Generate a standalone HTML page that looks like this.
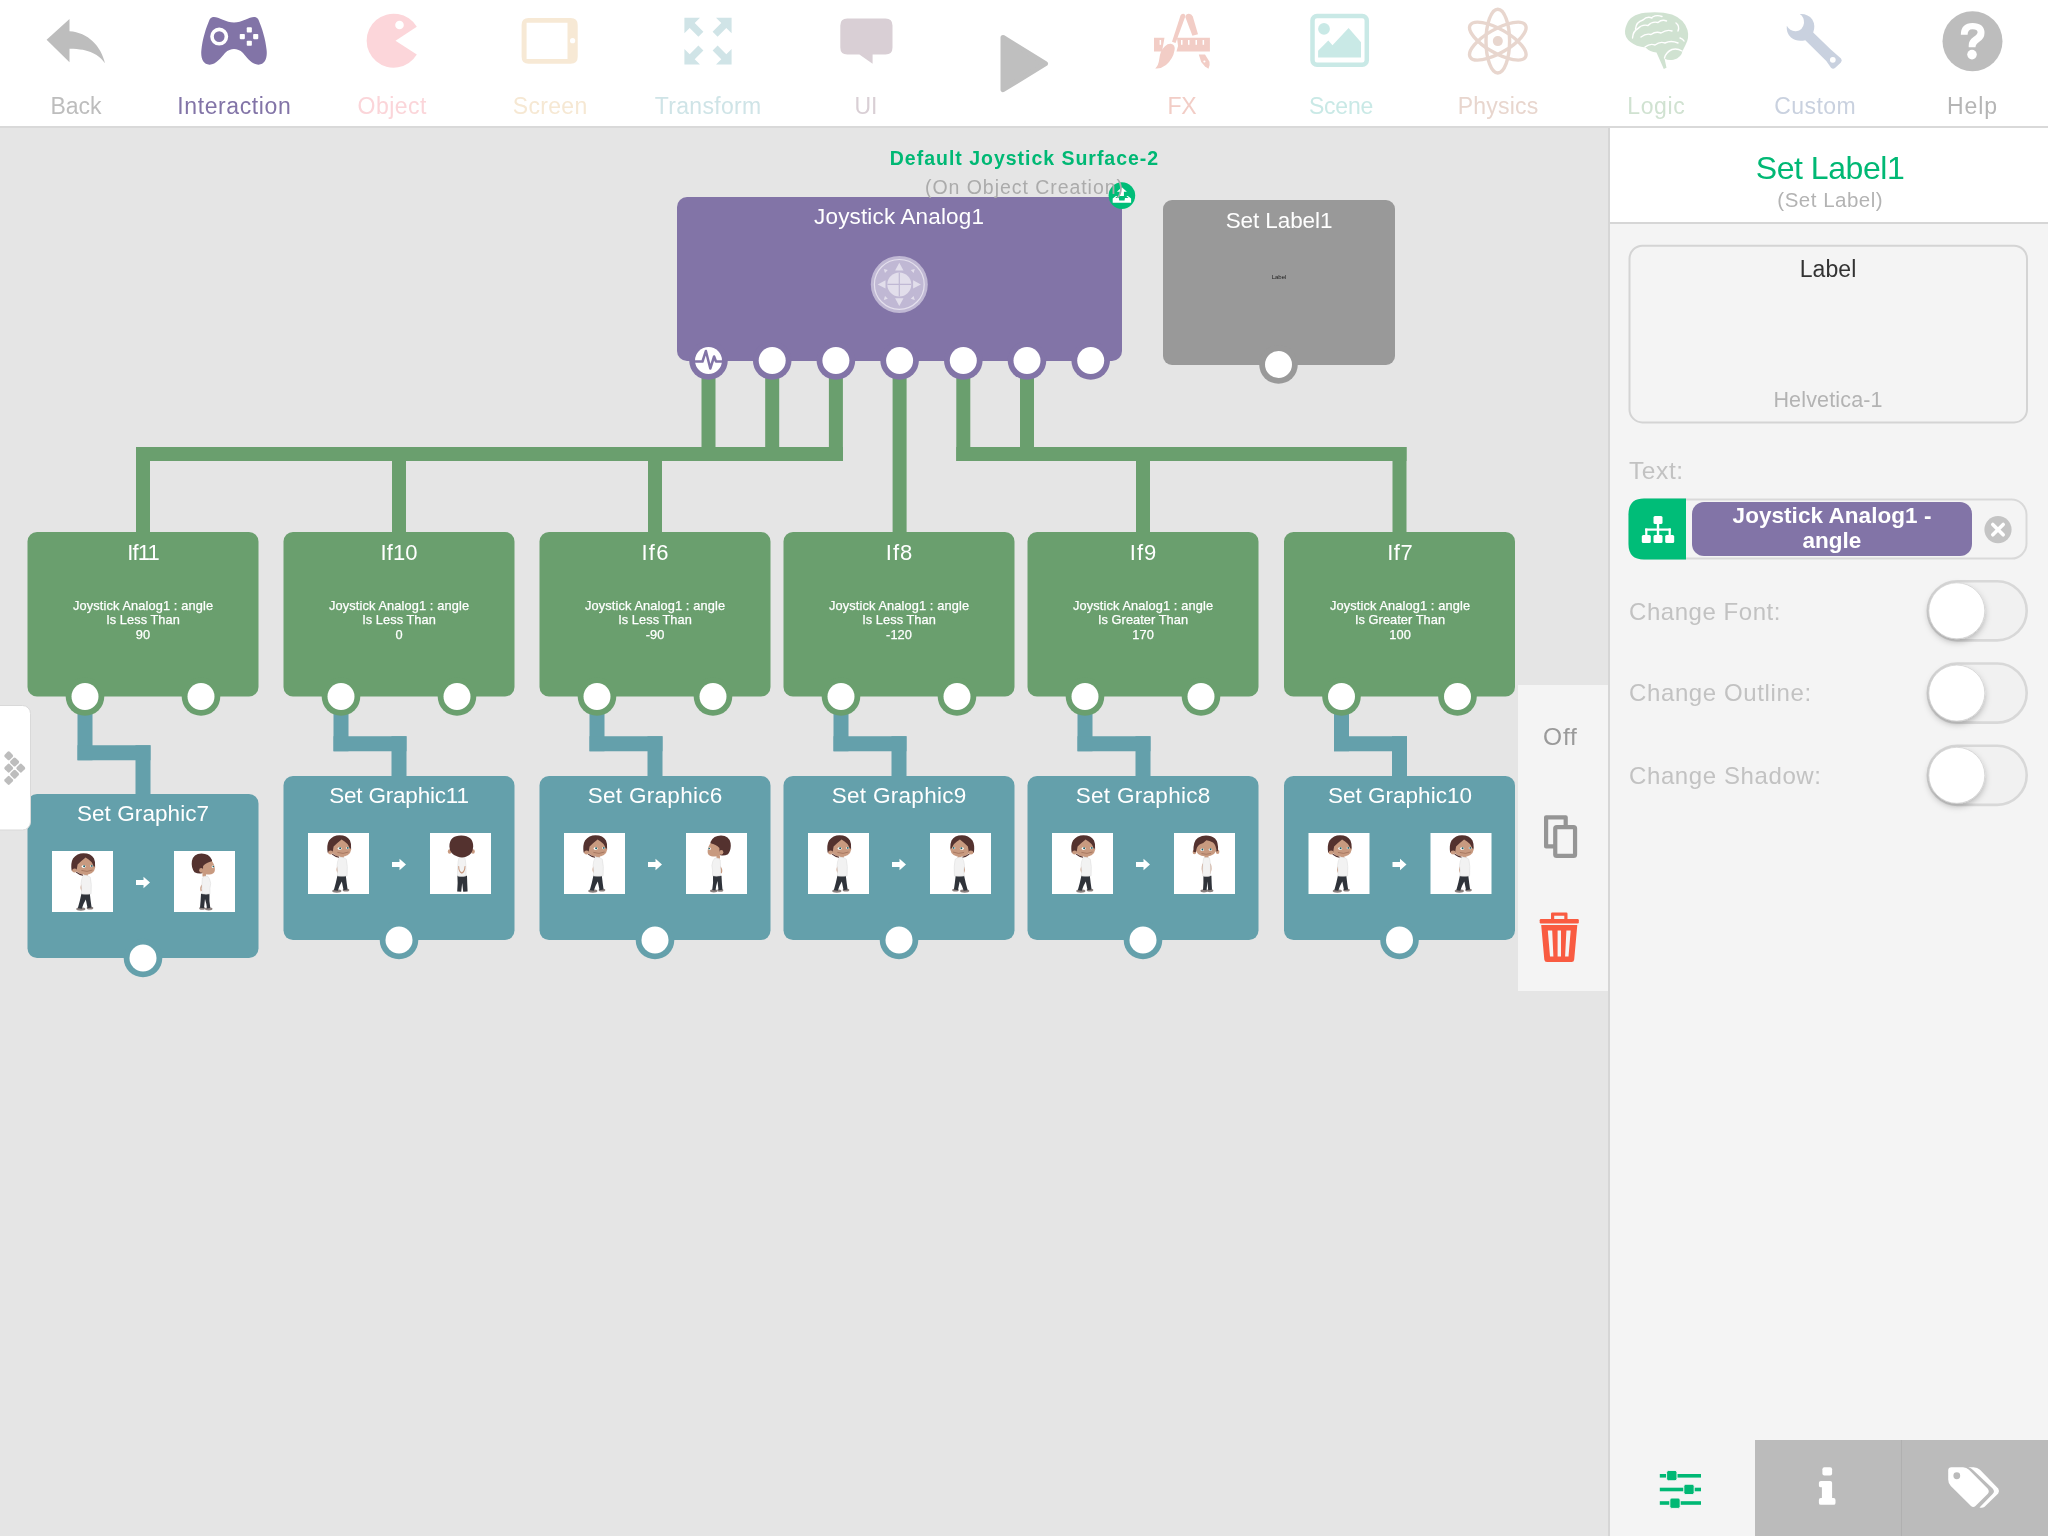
<!DOCTYPE html>
<html><head><meta charset="utf-8"><title>Logic Editor</title>
<style>
html,body{margin:0;padding:0;width:2048px;height:1536px;overflow:hidden;background:#e5e5e5;}
#s{position:absolute;left:0;top:0;}
.t{position:absolute;font-family:"Liberation Sans", sans-serif;line-height:1;white-space:nowrap;will-change:transform;}
</style></head><body>
<svg id="s" width="2048" height="1536" viewBox="0 0 2048 1536">
<defs>
<filter id="ksh" x="-50%" y="-50%" width="200%" height="200%">
<feDropShadow dx="0" dy="3" stdDeviation="3" flood-color="#000" flood-opacity="0.25"/>
</filter>
<!-- boy three-quarter view facing right -->
<g id="boy_tq">
<ellipse cx="28.8" cy="58" rx="4.6" ry="1.7" fill="#8a807e"/>
<ellipse cx="38" cy="57" rx="3.3" ry="1.5" fill="#8a807e"/>
<path d="M29.5 42.3L37.8 42.6Q38.6 50 39.6 56.5L35.6 57.2L33.8 48.6Q31.2 53 29.8 57.8L25.8 57.2Q28 50 29.5 42.3Z" fill="#2f333a"/>
<path d="M29.6 33Q27.6 36.2 29.3 39.8L30.6 39.2Q29.6 36.2 30.8 33.6Z" fill="#c89a80"/>
<path d="M32.2 22.5H35.8L36 25.5L32.5 25.8Z" fill="#c89a80"/>
<path d="M31.5 24.2Q35.5 23.6 38.3 26.2Q39.9 32.5 39.1 42.8Q34.5 43.8 29.4 42.9Q30 37 29 32.5Q29.5 27 31.5 24.2Z" fill="#f2f2f2" stroke="#dadada" stroke-width="0.5"/>
<path d="M23 14.5Q23 23.2 33 23.8Q42.2 23.4 43.2 16.5Q43.3 8 34 6Q24 7 23 14.5Z" fill="#c89a80"/>
<path d="M19.6 19.5Q18.5 12 21 7.5Q25 2.3 31.5 2.3Q39 2.4 42 7.5Q43.6 11 43.1 15.8L41.6 15.2Q40.2 10 33.6 6.4Q28.2 10.5 25.6 13.6Q25 17 24.6 19.8Q21.8 21 19.6 19.5Z" fill="#54322f"/>
<ellipse cx="22.6" cy="19.4" rx="2.5" ry="2" fill="#c89a80"/>
<path d="M24.2 21.2Q27 23.6 31 24.2" fill="none" stroke="#54322f" stroke-width="1.1"/>
<ellipse cx="31.6" cy="15.6" rx="2" ry="1.3" fill="#fff"/>
<circle cx="32.1" cy="15.3" r="1" fill="#1f5f66"/>
<ellipse cx="39.6" cy="15.1" rx="1.5" ry="1.1" fill="#fff"/>
<circle cx="39.8" cy="14.9" r="0.9" fill="#1f5f66"/>
<path d="M29.4 19.4Q35 21.6 40.6 19" fill="none" stroke="#9a6a55" stroke-width="0.7"/>
</g>
<!-- side profile facing left -->
<g id="boy_side_l">
<ellipse cx="27.8" cy="57.8" rx="3.8" ry="1.6" fill="#8a807e"/>
<ellipse cx="34.3" cy="57.2" rx="3" ry="1.5" fill="#8a807e"/>
<path d="M27 42.5L35.5 42.8Q35.8 50 36.5 56.8L32.5 57.2L31.5 48Q30 52.5 29.5 57.5L26.2 57Q27.5 50 27 42.5Z" fill="#2f333a"/>
<path d="M34 33Q37.4 36 35.8 40.4L34.6 39.8Q35.6 36.6 33.2 34Z" fill="#c89a80"/>
<path d="M30.5 22.5H34L34 25.5L30.5 25.8Z" fill="#c89a80"/>
<path d="M29 25Q32.5 24.5 34.2 27Q35 34 34.3 42.8Q30.5 43.6 26.5 42.8Q27 37 25.8 32.5Q26.5 27 29 25Z" fill="#f2f2f2" stroke="#dadada" stroke-width="0.5"/>
<path d="M26 8.5Q22 12.5 21.6 18Q21.4 22.4 25.2 23.2Q31 24.2 35.2 22Q34.2 16 33.6 13Q30.5 9 26 8.5Z" fill="#c89a80"/>
<path d="M24.5 9Q27.5 2.6 35 2.6Q43.2 3 44.6 10Q45.6 16.5 42 21.2Q38.2 23 34.6 22.2Q33 18.4 33.4 15Q30 11.2 24.5 10.2Z" fill="#54322f"/>
<ellipse cx="35.3" cy="19.3" rx="2" ry="2.4" fill="#c89a80"/>
<ellipse cx="23.6" cy="15.8" rx="1.2" ry="1.3" fill="#fff"/>
<circle cx="23.2" cy="15.6" r="0.8" fill="#1f5f66"/>
</g>
<g id="boy_side_r"><use href="#boy_side_l" transform="translate(62.5 0) scale(-1 1)"/></g>
<g id="boy_tq_l"><use href="#boy_tq" transform="translate(63.5 0) scale(-1 1)"/></g>
<!-- back view -->
<g id="boy_back">
<path d="M27.4 42.5L37 42.8Q37.2 50 37.6 58.5L33.2 58.8L32.2 50L31.2 58.8L27.2 58.6Q28 50 27.4 42.5Z" fill="#2f333a"/>
<path d="M29 24.5Q31.8 23.5 34.8 24.5Q36.5 31 35.9 43Q31.5 44 27.6 43Q27.2 31 29 24.5Z" fill="#f2f2f2" stroke="#dadada" stroke-width="0.5"/>
<path d="M28.2 33Q28 39 31.8 40.8Q35.5 39 35.5 33L34.5 33.2Q34.2 38.2 31.8 39.2Q29.2 38.2 29.2 33.2Z" fill="#c89a80"/>
<ellipse cx="19.6" cy="18.5" rx="1.8" ry="2.2" fill="#c89a80"/>
<ellipse cx="43" cy="18.5" rx="1.8" ry="2.2" fill="#c89a80"/>
<path d="M19.4 13.5Q19.4 2.6 31.2 2.6Q43.2 2.8 43.2 13.5Q43 21.5 36 23.8Q32 25 28 23.8Q19.6 21.5 19.4 13.5Z" fill="#54322f"/>
</g>
<!-- front view -->
<g id="boy_front">
<ellipse cx="30" cy="57.8" rx="3.6" ry="1.6" fill="#8a807e"/>
<ellipse cx="36" cy="57.6" rx="3.4" ry="1.6" fill="#8a807e"/>
<path d="M29.4 42.5L37.4 42.8Q37.6 50 38 56.8L34.2 57.2L33.4 48.5L32.6 57.2L29 57Q29.6 50 29.4 42.5Z" fill="#2f333a"/>
<path d="M28.4 30.5Q26.8 35.5 28.8 41L29.8 40.4Q28.6 35.5 29.6 31.2Z" fill="#c89a80"/>
<path d="M36.8 30.5Q38.4 35.5 36.4 41L35.4 40.4Q36.6 35.5 35.6 31.2Z" fill="#c89a80"/>
<path d="M30.5 22.5H34.5V25.5H30.5Z" fill="#c89a80"/>
<path d="M29.8 24.8Q32.6 24 35.4 24.8Q37 31 36.2 43Q32.5 44 28.8 43Q28.2 31 29.8 24.8Z" fill="#f2f2f2" stroke="#dadada" stroke-width="0.5"/>
<ellipse cx="20.4" cy="19" rx="1.8" ry="2.3" fill="#c89a80"/>
<ellipse cx="43.6" cy="18.8" rx="1.8" ry="2.3" fill="#c89a80"/>
<path d="M21.2 14Q21.5 23.2 32 23.6Q42.6 23.2 42.8 14Q42.4 7 32 6.6Q21.6 7 21.2 14Z" fill="#c89a80"/>
<path d="M19.4 19Q19 8 24 4.8Q28 2.6 32 2.6Q37.5 2.6 41 5.5Q44.6 9 44 18L42.4 18.4Q42.2 12 39 9.4Q35.5 7.5 32.4 7.2Q29.5 10.5 25.6 11.6Q22.6 13.5 21.8 19.2Z" fill="#54322f"/>
<ellipse cx="28.2" cy="16.8" rx="1.8" ry="1.2" fill="#fff"/>
<circle cx="28.4" cy="16.5" r="0.95" fill="#1f5f66"/>
<ellipse cx="36.4" cy="16.6" rx="1.8" ry="1.2" fill="#fff"/>
<circle cx="36.6" cy="16.3" r="0.95" fill="#1f5f66"/>
<path d="M27.5 20.5Q32 22 37 20.5" fill="none" stroke="#9a6a55" stroke-width="0.7"/>
</g>
<g id="boy_tq_r2"><use href="#boy_tq"/></g>
</defs>

<rect x="0" y="0" width="2048" height="1536" rx="0" fill="#e5e5e5" /><rect x="0" y="0" width="2048" height="126" rx="0" fill="#fff" /><rect x="0" y="126" width="2048" height="2" rx="0" fill="#d9d9d9" /><rect x="1608" y="128" width="2" height="1408" rx="0" fill="#d6d6d6" /><rect x="1610" y="128" width="438" height="1408" rx="0" fill="#f4f4f4" /><rect x="1610" y="128" width="438" height="94" rx="0" fill="#fff" /><rect x="1610" y="222" width="438" height="2" rx="0" fill="#d6d6d6" /><rect x="701.5" y="361" width="14" height="100" rx="0" fill="#6a9f6e" /><rect x="765.2" y="361" width="14" height="100" rx="0" fill="#6a9f6e" /><rect x="828.9" y="361" width="14" height="100" rx="0" fill="#6a9f6e" /><rect x="136" y="447.0" width="706.9" height="14" rx="0" fill="#6a9f6e" /><rect x="136.0" y="447" width="14" height="87" rx="0" fill="#6a9f6e" /><rect x="392.0" y="447" width="14" height="87" rx="0" fill="#6a9f6e" /><rect x="648.0" y="447" width="14" height="87" rx="0" fill="#6a9f6e" /><rect x="892.6" y="361" width="14" height="173" rx="0" fill="#6a9f6e" /><rect x="956.3" y="361" width="14" height="100" rx="0" fill="#6a9f6e" /><rect x="1020.0" y="361" width="14" height="100" rx="0" fill="#6a9f6e" /><rect x="956.3" y="447.0" width="450.20000000000005" height="14" rx="0" fill="#6a9f6e" /><rect x="1136.0" y="447" width="14" height="87" rx="0" fill="#6a9f6e" /><rect x="1392.5" y="447" width="14" height="87" rx="0" fill="#6a9f6e" /><rect x="77.5" y="696" width="15" height="64.25" rx="0" fill="#64a0ab" /><rect x="77.5" y="745.25" width="73.0" height="15" rx="0" fill="#64a0ab" /><rect x="135.5" y="745.25" width="15" height="50.75" rx="0" fill="#64a0ab" /><rect x="333.5" y="696" width="15" height="55.25" rx="0" fill="#64a0ab" /><rect x="333.5" y="736.25" width="73.0" height="15" rx="0" fill="#64a0ab" /><rect x="391.5" y="736.25" width="15" height="41.75" rx="0" fill="#64a0ab" /><rect x="589.5" y="696" width="15" height="55.25" rx="0" fill="#64a0ab" /><rect x="589.5" y="736.25" width="73.0" height="15" rx="0" fill="#64a0ab" /><rect x="647.5" y="736.25" width="15" height="41.75" rx="0" fill="#64a0ab" /><rect x="833.5" y="696" width="15" height="55.25" rx="0" fill="#64a0ab" /><rect x="833.5" y="736.25" width="73.0" height="15" rx="0" fill="#64a0ab" /><rect x="891.5" y="736.25" width="15" height="41.75" rx="0" fill="#64a0ab" /><rect x="1077.5" y="696" width="15" height="55.25" rx="0" fill="#64a0ab" /><rect x="1077.5" y="736.25" width="73.0" height="15" rx="0" fill="#64a0ab" /><rect x="1135.5" y="736.25" width="15" height="41.75" rx="0" fill="#64a0ab" /><rect x="1334.0" y="696" width="15" height="55.25" rx="0" fill="#64a0ab" /><rect x="1334.0" y="736.25" width="73.0" height="15" rx="0" fill="#64a0ab" /><rect x="1392.0" y="736.25" width="15" height="41.75" rx="0" fill="#64a0ab" /><rect x="677" y="197" width="445" height="164" rx="10" fill="#8274a7" /><g transform="translate(899.3 284.4)">
<circle r="28.5" fill="#c0b8d4"/>
<circle r="24.9" fill="none" stroke="#e4e0ed" stroke-width="1.2"/>
<circle r="12" fill="#e2deeb"/>
<path d="M-12 0H12M0 -12V12" stroke="#c0b8d4" stroke-width="1.2"/>
<path d="M0 -21.6L4.2 -13.8H-4.2Z M0 21.6L4.2 13.8H-4.2Z M-21.6 0L-13.8 4.2V-4.2Z M21.6 0L13.8 4.2V-4.2Z" fill="#e2deeb"/>
<path d="M-15.5 -15.5l4 1.2l-2.8 2.8Z M15.5 -15.5l-4 1.2l2.8 2.8Z M-15.5 15.5l4 -1.2l-2.8 -2.8Z M15.5 15.5l-4 -1.2l2.8 -2.8Z" fill="#e2deeb"/>
</g><circle cx="708.5" cy="360.5" r="19.3" fill="#8274a7" /><circle cx="708.5" cy="360.5" r="13.5" fill="#fff" /><circle cx="772.2" cy="360.5" r="19.3" fill="#8274a7" /><circle cx="772.2" cy="360.5" r="13.5" fill="#fff" /><circle cx="835.9" cy="360.5" r="19.3" fill="#8274a7" /><circle cx="835.9" cy="360.5" r="13.5" fill="#fff" /><circle cx="899.6" cy="360.5" r="19.3" fill="#8274a7" /><circle cx="899.6" cy="360.5" r="13.5" fill="#fff" /><circle cx="963.3" cy="360.5" r="19.3" fill="#8274a7" /><circle cx="963.3" cy="360.5" r="13.5" fill="#fff" /><circle cx="1027.0" cy="360.5" r="19.3" fill="#8274a7" /><circle cx="1027.0" cy="360.5" r="13.5" fill="#fff" /><circle cx="1090.7" cy="360.5" r="19.3" fill="#8274a7" /><circle cx="1090.7" cy="360.5" r="13.5" fill="#fff" /><path d="M695.0 361.5 H702.5 L705.9 351 L710.3 368.5 L714.1 356.5 L716.0 361.5 H722.0" fill="none" stroke="#8274a7" stroke-width="2.5" stroke-linejoin="round"/><rect x="1163" y="200" width="232" height="165" rx="9" fill="#999999" /><circle cx="1278.5" cy="364.5" r="19.3" fill="#999999" /><circle cx="1278.5" cy="364.5" r="13.5" fill="#fff" /><g transform="translate(1121.9 195.6)">
<circle r="13.3" fill="#00bd78"/>
<path d="M0 -8.4L-5 -3.9H-2.1V0.5H2V-3.9H5Z" fill="#fff"/>
<path d="M-6 0.3H-4.4L-6.6 2.3H-3.1L-2.6 4.9H2.6L3.1 2.3H6.6L4.4 0.3H6L9.2 2.9V7.1H-9.2V2.9Z" fill="#fff"/>
</g><rect x="27.5" y="532" width="231" height="164.5" rx="9.5" fill="#6a9f6e" /><circle cx="85" cy="696.5" r="19.3" fill="#6a9f6e" /><circle cx="85" cy="696.5" r="13.5" fill="#fff" /><circle cx="201" cy="696.5" r="19.3" fill="#6a9f6e" /><circle cx="201" cy="696.5" r="13.5" fill="#fff" /><rect x="283.5" y="532" width="231" height="164.5" rx="9.5" fill="#6a9f6e" /><circle cx="341" cy="696.5" r="19.3" fill="#6a9f6e" /><circle cx="341" cy="696.5" r="13.5" fill="#fff" /><circle cx="457" cy="696.5" r="19.3" fill="#6a9f6e" /><circle cx="457" cy="696.5" r="13.5" fill="#fff" /><rect x="539.5" y="532" width="231" height="164.5" rx="9.5" fill="#6a9f6e" /><circle cx="597" cy="696.5" r="19.3" fill="#6a9f6e" /><circle cx="597" cy="696.5" r="13.5" fill="#fff" /><circle cx="713" cy="696.5" r="19.3" fill="#6a9f6e" /><circle cx="713" cy="696.5" r="13.5" fill="#fff" /><rect x="783.5" y="532" width="231" height="164.5" rx="9.5" fill="#6a9f6e" /><circle cx="841" cy="696.5" r="19.3" fill="#6a9f6e" /><circle cx="841" cy="696.5" r="13.5" fill="#fff" /><circle cx="957" cy="696.5" r="19.3" fill="#6a9f6e" /><circle cx="957" cy="696.5" r="13.5" fill="#fff" /><rect x="1027.5" y="532" width="231" height="164.5" rx="9.5" fill="#6a9f6e" /><circle cx="1085" cy="696.5" r="19.3" fill="#6a9f6e" /><circle cx="1085" cy="696.5" r="13.5" fill="#fff" /><circle cx="1201" cy="696.5" r="19.3" fill="#6a9f6e" /><circle cx="1201" cy="696.5" r="13.5" fill="#fff" /><rect x="1284.0" y="532" width="231" height="164.5" rx="9.5" fill="#6a9f6e" /><circle cx="1341.5" cy="696.5" r="19.3" fill="#6a9f6e" /><circle cx="1341.5" cy="696.5" r="13.5" fill="#fff" /><circle cx="1457.5" cy="696.5" r="19.3" fill="#6a9f6e" /><circle cx="1457.5" cy="696.5" r="13.5" fill="#fff" /><rect x="27.5" y="794" width="231" height="164" rx="9.5" fill="#64a0ab" /><circle cx="143" cy="958" r="19.3" fill="#64a0ab" /><circle cx="143" cy="958" r="13.5" fill="#fff" /><rect x="52" y="851" width="61" height="61" rx="0" fill="#fff" /><rect x="174" y="851" width="61" height="61" rx="0" fill="#fff" /><use href="#boy_tq" x="52" y="851"/><use href="#boy_side_r" x="174" y="851"/><path d="M136 879.9H143.5V876.7L150 882.5L143.5 888.3V885.1H136Z" fill="#fff"/><rect x="283.5" y="776" width="231" height="164" rx="9.5" fill="#64a0ab" /><circle cx="399" cy="940" r="19.3" fill="#64a0ab" /><circle cx="399" cy="940" r="13.5" fill="#fff" /><rect x="308" y="833" width="61" height="61" rx="0" fill="#fff" /><rect x="430" y="833" width="61" height="61" rx="0" fill="#fff" /><use href="#boy_tq" x="308" y="833"/><use href="#boy_back" x="430" y="833"/><path d="M392 861.9H399.5V858.7L406 864.5L399.5 870.3V867.1H392Z" fill="#fff"/><rect x="539.5" y="776" width="231" height="164" rx="9.5" fill="#64a0ab" /><circle cx="655" cy="940" r="19.3" fill="#64a0ab" /><circle cx="655" cy="940" r="13.5" fill="#fff" /><rect x="564" y="833" width="61" height="61" rx="0" fill="#fff" /><rect x="686" y="833" width="61" height="61" rx="0" fill="#fff" /><use href="#boy_tq" x="564" y="833"/><use href="#boy_side_l" x="686" y="833"/><path d="M648 861.9H655.5V858.7L662 864.5L655.5 870.3V867.1H648Z" fill="#fff"/><rect x="783.5" y="776" width="231" height="164" rx="9.5" fill="#64a0ab" /><circle cx="899" cy="940" r="19.3" fill="#64a0ab" /><circle cx="899" cy="940" r="13.5" fill="#fff" /><rect x="808" y="833" width="61" height="61" rx="0" fill="#fff" /><rect x="930" y="833" width="61" height="61" rx="0" fill="#fff" /><use href="#boy_tq" x="808" y="833"/><use href="#boy_tq_l" x="930" y="833"/><path d="M892 861.9H899.5V858.7L906 864.5L899.5 870.3V867.1H892Z" fill="#fff"/><rect x="1027.5" y="776" width="231" height="164" rx="9.5" fill="#64a0ab" /><circle cx="1143" cy="940" r="19.3" fill="#64a0ab" /><circle cx="1143" cy="940" r="13.5" fill="#fff" /><rect x="1052" y="833" width="61" height="61" rx="0" fill="#fff" /><rect x="1174" y="833" width="61" height="61" rx="0" fill="#fff" /><use href="#boy_tq" x="1052" y="833"/><use href="#boy_front" x="1174" y="833"/><path d="M1136 861.9H1143.5V858.7L1150 864.5L1143.5 870.3V867.1H1136Z" fill="#fff"/><rect x="1284.0" y="776" width="231" height="164" rx="9.5" fill="#64a0ab" /><circle cx="1399.5" cy="940" r="19.3" fill="#64a0ab" /><circle cx="1399.5" cy="940" r="13.5" fill="#fff" /><rect x="1308.5" y="833" width="61" height="61" rx="0" fill="#fff" /><rect x="1430.5" y="833" width="61" height="61" rx="0" fill="#fff" /><use href="#boy_tq" x="1308.5" y="833"/><use href="#boy_tq_r2" x="1430.5" y="833"/><path d="M1392.5 861.9H1400.0V858.7L1406.5 864.5L1400.0 870.3V867.1H1392.5Z" fill="#fff"/><rect x="1518" y="685" width="90" height="306" rx="0" fill="#f4f4f4" /><g fill="none" stroke="#959595" stroke-width="4.2" stroke-linejoin="round">
<path d="M1555.2 846.4H1546.1V817.3H1565.7V827"/>
<rect x="1555.25" y="827.05" width="19.8" height="28.9" rx="1.5"/>
</g><g fill="#f95b41">
<rect x="1539.7" y="919" width="39.1" height="4.4" rx="1.2"/>
<path d="M1551 920V913.8Q1551 912.6 1552.2 912.6H1566.3Q1567.5 912.6 1567.5 913.8V920H1564.3V915.8H1554.2V920Z"/>
<path d="M1541.2 925H1577.3L1574.2 959.5Q1574 962 1571.5 962H1547Q1544.5 962 1544.3 959.5ZM1547.8 930.5L1550 956.5H1553.4L1552.2 930.5ZM1557.6 930.5V956.5H1561V930.5ZM1566.4 930.5L1565.1 956.5H1568.5L1570.7 930.5Z" fill-rule="evenodd"/>
</g><rect x="-10" y="705.5" width="40.5" height="124.5" rx="8" fill="#fff" stroke="#d9d9d9" stroke-width="1"/><rect x="5.1" y="752.1999999999999" width="7.2" height="7.2" rx="1.6" fill="#bdbdbd" transform="rotate(45 8.7 755.8)"/><rect x="11.0" y="758.4" width="7.2" height="7.2" rx="1.6" fill="#bdbdbd" transform="rotate(45 14.6 762)"/><rect x="5.1" y="764.5" width="7.2" height="7.2" rx="1.6" fill="#bdbdbd" transform="rotate(45 8.7 768.1)"/><rect x="17.2" y="764.5" width="7.2" height="7.2" rx="1.6" fill="#bdbdbd" transform="rotate(45 20.8 768.1)"/><rect x="11.0" y="770.6" width="7.2" height="7.2" rx="1.6" fill="#bdbdbd" transform="rotate(45 14.6 774.2)"/><rect x="5.1" y="776.8" width="7.2" height="7.2" rx="1.6" fill="#bdbdbd" transform="rotate(45 8.7 780.4)"/><rect x="1629.5" y="245.7" width="397.5" height="176.7" rx="13" fill="none" stroke="#d4d4d4" stroke-width="2"/><rect x="1629.5" y="499.6" width="397" height="59" rx="15" fill="none" stroke="#d9d9d9" stroke-width="2"/><path d="M1686 498.6V559.6H1644Q1628.5 559.6 1628.5 544V514.2Q1628.5 498.6 1644 498.6Z" fill="#00bd78"/><rect x="1692" y="502" width="280" height="54" rx="12" fill="#8274a7" /><g transform="translate(1998 529.6)"><circle r="13.6" fill="#c4c4c4"/>
<path d="M-5.2 -5.2L5.2 5.2M5.2 -5.2L-5.2 5.2" stroke="#fff" stroke-width="3.6" stroke-linecap="round"/></g><g fill="#fff">
<rect x="1653.5" y="516" width="9" height="8" rx="1.5"/>
<rect x="1641.8" y="535" width="9" height="8" rx="1.5"/>
<rect x="1653.5" y="535" width="9" height="8" rx="1.5"/>
<rect x="1665.2" y="535" width="9" height="8" rx="1.5"/>
<rect x="1656.8" y="523" width="2.4" height="13"/>
<rect x="1645.2" y="528.5" width="25.6" height="2.2"/>
<rect x="1645.2" y="528.5" width="2.2" height="7"/>
<rect x="1668.6" y="528.5" width="2.2" height="7"/>
</g><rect x="1927.8" y="581.25" width="98.9" height="59.1" rx="29.55" fill="#f1f1f1" stroke="#d8d8d8" stroke-width="2.6"/><circle cx="1956.8" cy="610.8" r="28" fill="#fff" stroke="#c8c8c8" stroke-width="0.6" filter="url(#ksh)"/><rect x="1927.8" y="663.5500000000001" width="98.9" height="59.1" rx="29.55" fill="#f1f1f1" stroke="#d8d8d8" stroke-width="2.6"/><circle cx="1956.8" cy="693.1" r="28" fill="#fff" stroke="#c8c8c8" stroke-width="0.6" filter="url(#ksh)"/><rect x="1927.8" y="745.75" width="98.9" height="59.1" rx="29.55" fill="#f1f1f1" stroke="#d8d8d8" stroke-width="2.6"/><circle cx="1956.8" cy="775.3" r="28" fill="#fff" stroke="#c8c8c8" stroke-width="0.6" filter="url(#ksh)"/><rect x="1755" y="1440" width="293" height="96" rx="0" fill="#bbbbbb" /><rect x="1901" y="1440" width="1" height="96" rx="0" fill="#b0b0b0" /><g fill="#00b874">
<rect x="1659.8" y="1474" width="41.2" height="3.6"/>
<rect x="1659.8" y="1487.7" width="41.2" height="3.6"/>
<rect x="1659.8" y="1501.2" width="41.2" height="3.6"/>
<rect x="1666.6" y="1470.4" width="10.4" height="10.4" rx="2" stroke="#f4f4f4" stroke-width="1"/>
<rect x="1683.8" y="1484.2" width="10.4" height="10.4" rx="2" stroke="#f4f4f4" stroke-width="1"/>
<rect x="1669.8" y="1498" width="10.4" height="10.4" rx="2" stroke="#f4f4f4" stroke-width="1"/>
</g><g fill="#fff">
<rect x="1822.4" y="1467.2" width="9.7" height="8.3" rx="2"/>
<path d="M1820.9 1480.9H1830.2Q1832.1 1480.9 1832.1 1482.8V1498H1833.6Q1835.5 1498 1835.5 1499.9V1502.9Q1835.5 1504.8 1833.6 1504.8H1820.8Q1818.9 1504.8 1818.9 1502.9V1499.9Q1818.9 1498 1820.8 1498H1821.9V1487.3H1820.9Q1818.9 1487.3 1818.9 1485.4V1482.8Q1818.9 1480.9 1820.9 1480.9Z"/>
</g><g fill="#fff">
<path d="M1951.5 1467.2H1963Q1966.5 1467.2 1969 1469.8L1987.6 1488.5Q1990 1491.3 1987.6 1494L1975.5 1506Q1973.2 1508.2 1971 1506L1950.8 1486Q1948.2 1483.5 1948.2 1479.5V1470.5Q1948.2 1467.2 1951.5 1467.2ZM1960.2 1475.75A3.4 3.4 0 1 0 1953.4 1475.75A3.4 3.4 0 1 0 1960.2 1475.75Z" fill-rule="evenodd"/>
<path d="M1968.3 1467.2H1973.5Q1977.5 1467.2 1980 1469.8L1998.2 1488.5Q1999.9 1491.2 1998.2 1493.6L1984.6 1506.8Q1982.5 1508.4 1979.5 1507.6L1992.6 1494Q1995.3 1491.3 1992.6 1488.5L1973 1470Q1971 1468 1968.3 1467.2Z"/>
</g><g id="toolbar-icons">
<!-- back arrow -->
<path d="M46.6 39.8L69.5 19V31.3C88 32.5 101 46 105 63.3C99 55 90 48.8 69.5 48.8V62.2Z" fill="#bdbdbd"/>
<!-- gamepad -->
<path d="M213.4 17C218 16.5 226 22.5 234 22.5C242 22.5 250 16.5 254.6 17C256.5 17.2 257.8 18.2 258.6 20C262 28 265.5 39 266.6 50C267.5 58 265 64.5 258.5 64.7C252 64.8 246.5 57 243 53C240 50 237 49 234 49C231 49 228 50 225 53C221.5 57 216 64.8 209.5 64.7C203 64.5 200.5 58 201.4 50C202.5 39 206 28 209.4 20C210.2 18.2 211.5 17.2 213.4 17Z" fill="#8274a7"/>
<circle cx="219.2" cy="36.6" r="7.2" fill="none" stroke="#fff" stroke-width="3.6"/>
<g fill="#fff">
<rect x="246.75" y="27.35" width="5.1" height="5.1" rx="0.8"/>
<rect x="239.75" y="34.05" width="5.1" height="5.1" rx="0.8"/>
<rect x="253.15" y="34.05" width="5.1" height="5.1" rx="0.8"/>
<rect x="246.75" y="40.65" width="5.1" height="5.1" rx="0.8"/>
</g>
<!-- pacman -->
<path d="M395.5 40.7L416.8 26.8A27 27 0 1 0 416.8 54.6Z" fill="#fcd6da"/>
<circle cx="399.5" cy="25" r="4.3" fill="#fff"/>
<!-- tablet -->
<path d="M528.6 18H570.7Q577.7 18 577.7 25V56.75Q577.7 63.75 570.7 63.75H528.6Q521.6 63.75 521.6 56.75V25Q521.6 18 528.6 18ZM526.6 22.7V59H567.5V22.7Z" fill="#f7e9d5" fill-rule="evenodd"/>
<circle cx="572.6" cy="40.7" r="2.6" fill="#fff"/>
<!-- transform arrows -->
<g fill="#d0e4e7">
<path id="tfa" d="M684.4 17.7H700L694.7 23L703.4 31.7L698.4 36.7L689.7 28L684.4 33.3Z"/>
<use href="#tfa" transform="translate(1416 0) scale(-1 1)"/>
<use href="#tfa" transform="translate(0 82.2) scale(1 -1)"/>
<use href="#tfa" transform="translate(1416 82.2) scale(-1 -1)"/>
</g>
<!-- speech bubble -->
<path d="M847.3 18.4H885.5Q892.5 18.4 892.5 25.4V47.4Q892.5 54.4 885.5 54.4H872.6V63.75L859.4 54.4H847.3Q840.3 54.4 840.3 47.4V25.4Q840.3 18.4 847.3 18.4Z" fill="#d9cfd5"/>
<!-- play -->
<path d="M1003 37.5L1045.5 63.6L1003 89.7Z" fill="#bfbfbf" stroke="#bfbfbf" stroke-width="5" stroke-linejoin="round"/>
<!-- FX -->
<g fill="#f2cdc6">
<path d="M1154 37.8H1164.5L1162 51.6H1154Z"/>
<path d="M1177 37.8H1209.9V51.6H1176.5L1178 46Z"/>
<path d="M1185.5 16Q1186.5 13.6 1189 13.8Q1191.5 14 1192.8 16.5L1198 34.2L1192.4 35.8L1185.5 17.5Z"/>
<path d="M1183.2 13.8Q1185.6 14.2 1185.2 16.8L1175.6 43L1172 41.8L1180.5 15.5Q1181.3 13.7 1183.2 13.8Z"/>
<path d="M1170.8 43.8Q1175.6 44.5 1174.5 50.5Q1173 59 1166 65Q1160.5 69.2 1155.2 68.4Q1158.5 65.5 1159.2 59.5Q1160 50.5 1165 46.2Q1167.8 43.5 1170.8 43.8Z"/>
<path d="M1198.8 54.5H1205L1209.5 61.8Q1210.2 64.5 1208.5 68.7L1205 66.5L1201.2 62Z"/>
</g>
<g fill="#fff">
<rect x="1159.6" y="40" width="1.5" height="4.8"/>
<rect x="1181" y="40" width="1.5" height="4.8"/>
<rect x="1188" y="40" width="1.5" height="4.8"/>
<rect x="1195.5" y="40" width="1.5" height="4.8"/>
<rect x="1202.6" y="40" width="1.5" height="4.8"/>
<circle cx="1204.4" cy="61.5" r="1.1"/>
</g>
<!-- scene -->
<rect x="1312.5" y="16" width="54.3" height="48.7" rx="4.5" fill="none" stroke="#c9e9e6" stroke-width="4.5"/>
<circle cx="1324" cy="28.9" r="5.9" fill="#c9e9e6"/>
<path d="M1318.1 57.6V50.8L1328.3 40.6L1332.5 45.3L1348.6 28.1L1361 42.2V57.6Z" fill="#c9e9e6"/>
<!-- atom -->
<g fill="none" stroke="#e8d6ce" stroke-width="3.4" transform="translate(1497.8 41.1)">
<ellipse rx="11.8" ry="31.9"/>
<ellipse rx="11.8" ry="31.9" transform="rotate(60)"/>
<ellipse rx="11.8" ry="31.9" transform="rotate(-60)"/>
<circle r="5" fill="#e8d6ce" stroke="none"/>
</g>
<!-- brain -->
<path d="M1626.5 25Q1630 14.5 1645 12.8Q1660 11 1672 14.5Q1684 19 1687.5 30Q1689.5 38 1685.5 45Q1683.5 49 1682.5 51Q1681.5 57.5 1673.5 59.8Q1668 60.8 1664.5 58.5L1666.5 67.8L1663.8 68.9L1656.5 52.5Q1650 52 1645.5 47.5Q1636 46.5 1630.5 42Q1624.5 37.5 1625 31Q1625.2 28 1626.5 25Z" fill="#d0e2d1"/>
<path d="M1632.5 38Q1633 31 1638 28.5Q1642 24 1648 25.5Q1652 21 1658 22.5Q1662 19 1666.5 21M1635.5 29Q1636 22 1643 20Q1647 16 1652 18M1652.5 17Q1657 14.5 1662 16.5M1645 47Q1650 43 1655 45Q1660 41 1665 43Q1671 40 1678 43M1641 37Q1646 33 1651 34.5Q1656 31 1661 33Q1667 29 1672 31M1676 23Q1680 26 1678 31M1680 38Q1683 39 1684 41M1664.5 58Q1666 52 1672 49.5Q1677 48 1682 51" fill="none" stroke="#fff" stroke-width="1.4" stroke-linecap="round"/>
<!-- wrench -->
<path d="M1799.7 14Q1808 13.5 1812.3 19.5Q1815.8 25.5 1813.2 32.5L1830.5 49.2L1841 58.6Q1842.6 60.5 1840.9 62.4L1835 68Q1833 69.6 1831 67.8L1826.3 61L1805.3 40.2Q1797 42.2 1791 37.6Q1786 33.2 1786.8 25.8Q1790 31.6 1796 31.2Q1803 30.5 1804 23Q1804.2 16.8 1799.7 14Z" fill="#c9d1df"/>
<circle cx="1832.8" cy="59.8" r="2.9" fill="#fff"/>
<!-- help -->
<circle cx="1972.5" cy="41.2" r="30" fill="#bdbdbd"/>
<path d="M1960.8 34.8Q1961 23 1972.5 23Q1984.5 23.2 1984.5 33Q1984.5 38.5 1979 42Q1975.5 44.2 1975.5 47.3H1968.7V45.5Q1968.7 40 1973.5 37Q1977.6 34.5 1977.6 32.3Q1977.6 29.2 1972.5 29.2Q1967.6 29.2 1967.6 34.8Z" fill="#fff"/>
<circle cx="1972" cy="54.6" r="4.8" fill="#fff"/>
</g>

</svg>
<div class="t" style="left:299.00px;width:1200px;text-align:center;padding-left:0.15px;box-sizing:border-box;top:205.95px;font-size:22.5px;font-weight:400;color:#fff;letter-spacing:0.15px;">Joystick Analog1</div><div class="t" style="left:678.50px;width:1200px;text-align:center;padding-left:-0.10px;box-sizing:border-box;top:209.75px;font-size:22.5px;font-weight:400;color:#fff;letter-spacing:-0.1px;">Set Label1</div><div class="t" style="left:678.50px;width:1200px;text-align:center;padding-left:0.00px;box-sizing:border-box;top:274.42px;font-size:6px;font-weight:400;color:#222;letter-spacing:0px;">Label</div><div class="t" style="left:423.50px;width:1200px;text-align:center;padding-left:0.98px;box-sizing:border-box;top:149.29px;font-size:19.5px;font-weight:700;color:#00b874;letter-spacing:0.98px;">Default Joystick Surface-2</div><div class="t" style="left:423.50px;width:1200px;text-align:center;padding-left:0.95px;box-sizing:border-box;top:177.99px;font-size:19.5px;font-weight:400;color:#ababab;letter-spacing:0.95px;">(On Object Creation)</div><div class="t" style="left:-457.00px;width:1200px;text-align:center;padding-left:-0.87px;box-sizing:border-box;top:541.68px;font-size:22px;font-weight:400;color:#fff;letter-spacing:-0.87px;">If11</div><div class="t" style="left:-457.00px;width:1200px;text-align:center;padding-left:0.12px;box-sizing:border-box;top:600.16px;font-size:12.8px;font-weight:400;color:#fff;letter-spacing:0.12px;-webkit-text-stroke:0.25px #fff;">Joystick Analog1 : angle</div><div class="t" style="left:-457.00px;width:1200px;text-align:center;padding-left:0.05px;box-sizing:border-box;top:614.26px;font-size:12.8px;font-weight:400;color:#fff;letter-spacing:0.05px;-webkit-text-stroke:0.25px #fff;">Is Less Than</div><div class="t" style="left:-457.00px;width:1200px;text-align:center;padding-left:0.10px;box-sizing:border-box;top:628.76px;font-size:12.8px;font-weight:400;color:#fff;letter-spacing:0.1px;-webkit-text-stroke:0.25px #fff;">90</div><div class="t" style="left:-201.00px;width:1200px;text-align:center;padding-left:0.03px;box-sizing:border-box;top:541.68px;font-size:22px;font-weight:400;color:#fff;letter-spacing:0.03px;">If10</div><div class="t" style="left:-201.00px;width:1200px;text-align:center;padding-left:0.12px;box-sizing:border-box;top:600.16px;font-size:12.8px;font-weight:400;color:#fff;letter-spacing:0.12px;-webkit-text-stroke:0.25px #fff;">Joystick Analog1 : angle</div><div class="t" style="left:-201.00px;width:1200px;text-align:center;padding-left:0.05px;box-sizing:border-box;top:614.26px;font-size:12.8px;font-weight:400;color:#fff;letter-spacing:0.05px;-webkit-text-stroke:0.25px #fff;">Is Less Than</div><div class="t" style="left:-201.00px;width:1200px;text-align:center;padding-left:0.10px;box-sizing:border-box;top:628.76px;font-size:12.8px;font-weight:400;color:#fff;letter-spacing:0.1px;-webkit-text-stroke:0.25px #fff;">0</div><div class="t" style="left:55.00px;width:1200px;text-align:center;padding-left:1.15px;box-sizing:border-box;top:541.68px;font-size:22px;font-weight:400;color:#fff;letter-spacing:1.15px;">If6</div><div class="t" style="left:55.00px;width:1200px;text-align:center;padding-left:0.12px;box-sizing:border-box;top:600.16px;font-size:12.8px;font-weight:400;color:#fff;letter-spacing:0.12px;-webkit-text-stroke:0.25px #fff;">Joystick Analog1 : angle</div><div class="t" style="left:55.00px;width:1200px;text-align:center;padding-left:0.05px;box-sizing:border-box;top:614.26px;font-size:12.8px;font-weight:400;color:#fff;letter-spacing:0.05px;-webkit-text-stroke:0.25px #fff;">Is Less Than</div><div class="t" style="left:55.00px;width:1200px;text-align:center;padding-left:0.10px;box-sizing:border-box;top:628.76px;font-size:12.8px;font-weight:400;color:#fff;letter-spacing:0.1px;-webkit-text-stroke:0.25px #fff;">-90</div><div class="t" style="left:299.00px;width:1200px;text-align:center;padding-left:1.00px;box-sizing:border-box;top:541.68px;font-size:22px;font-weight:400;color:#fff;letter-spacing:1.0px;">If8</div><div class="t" style="left:299.00px;width:1200px;text-align:center;padding-left:0.12px;box-sizing:border-box;top:600.16px;font-size:12.8px;font-weight:400;color:#fff;letter-spacing:0.12px;-webkit-text-stroke:0.25px #fff;">Joystick Analog1 : angle</div><div class="t" style="left:299.00px;width:1200px;text-align:center;padding-left:0.05px;box-sizing:border-box;top:614.26px;font-size:12.8px;font-weight:400;color:#fff;letter-spacing:0.05px;-webkit-text-stroke:0.25px #fff;">Is Less Than</div><div class="t" style="left:299.00px;width:1200px;text-align:center;padding-left:0.10px;box-sizing:border-box;top:628.76px;font-size:12.8px;font-weight:400;color:#fff;letter-spacing:0.1px;-webkit-text-stroke:0.25px #fff;">-120</div><div class="t" style="left:543.00px;width:1200px;text-align:center;padding-left:1.00px;box-sizing:border-box;top:541.68px;font-size:22px;font-weight:400;color:#fff;letter-spacing:1.0px;">If9</div><div class="t" style="left:543.00px;width:1200px;text-align:center;padding-left:0.12px;box-sizing:border-box;top:600.16px;font-size:12.8px;font-weight:400;color:#fff;letter-spacing:0.12px;-webkit-text-stroke:0.25px #fff;">Joystick Analog1 : angle</div><div class="t" style="left:543.00px;width:1200px;text-align:center;padding-left:0.05px;box-sizing:border-box;top:614.26px;font-size:12.8px;font-weight:400;color:#fff;letter-spacing:0.05px;-webkit-text-stroke:0.25px #fff;">Is Greater Than</div><div class="t" style="left:543.00px;width:1200px;text-align:center;padding-left:0.10px;box-sizing:border-box;top:628.76px;font-size:12.8px;font-weight:400;color:#fff;letter-spacing:0.1px;-webkit-text-stroke:0.25px #fff;">170</div><div class="t" style="left:799.50px;width:1200px;text-align:center;padding-left:0.55px;box-sizing:border-box;top:541.68px;font-size:22px;font-weight:400;color:#fff;letter-spacing:0.55px;">If7</div><div class="t" style="left:799.50px;width:1200px;text-align:center;padding-left:0.12px;box-sizing:border-box;top:600.16px;font-size:12.8px;font-weight:400;color:#fff;letter-spacing:0.12px;-webkit-text-stroke:0.25px #fff;">Joystick Analog1 : angle</div><div class="t" style="left:799.50px;width:1200px;text-align:center;padding-left:0.05px;box-sizing:border-box;top:614.26px;font-size:12.8px;font-weight:400;color:#fff;letter-spacing:0.05px;-webkit-text-stroke:0.25px #fff;">Is Greater Than</div><div class="t" style="left:799.50px;width:1200px;text-align:center;padding-left:0.10px;box-sizing:border-box;top:628.76px;font-size:12.8px;font-weight:400;color:#fff;letter-spacing:0.1px;-webkit-text-stroke:0.25px #fff;">100</div><div class="t" style="left:-457.00px;width:1200px;text-align:center;padding-left:0.08px;box-sizing:border-box;top:802.95px;font-size:22.5px;font-weight:400;color:#fff;letter-spacing:0.08px;">Set Graphic7</div><div class="t" style="left:-201.00px;width:1200px;text-align:center;padding-left:-0.20px;box-sizing:border-box;top:784.95px;font-size:22.5px;font-weight:400;color:#fff;letter-spacing:-0.2px;">Set Graphic11</div><div class="t" style="left:55.00px;width:1200px;text-align:center;padding-left:0.30px;box-sizing:border-box;top:784.95px;font-size:22.5px;font-weight:400;color:#fff;letter-spacing:0.3px;">Set Graphic6</div><div class="t" style="left:299.00px;width:1200px;text-align:center;padding-left:0.30px;box-sizing:border-box;top:784.95px;font-size:22.5px;font-weight:400;color:#fff;letter-spacing:0.3px;">Set Graphic9</div><div class="t" style="left:543.00px;width:1200px;text-align:center;padding-left:0.30px;box-sizing:border-box;top:784.95px;font-size:22.5px;font-weight:400;color:#fff;letter-spacing:0.3px;">Set Graphic8</div><div class="t" style="left:799.50px;width:1200px;text-align:center;padding-left:0.00px;box-sizing:border-box;top:784.95px;font-size:22.5px;font-weight:400;color:#fff;letter-spacing:0.0px;">Set Graphic10</div><div class="t" style="left:960.00px;width:1200px;text-align:center;padding-left:0.80px;box-sizing:border-box;top:725.46px;font-size:24.5px;font-weight:400;color:#9a9a9a;letter-spacing:0.8px;">Off</div><div class="t" style="left:1229.70px;width:1200px;text-align:center;padding-left:-0.45px;box-sizing:border-box;top:152.41px;font-size:32px;font-weight:400;color:#00b874;letter-spacing:-0.45px;">Set Label1</div><div class="t" style="left:1229.50px;width:1200px;text-align:center;padding-left:0.50px;box-sizing:border-box;top:190.15px;font-size:20.5px;font-weight:400;color:#b3b3b3;letter-spacing:0.5px;">(Set Label)</div><div class="t" style="left:1227.70px;width:1200px;text-align:center;padding-left:0.10px;box-sizing:border-box;top:258.03px;font-size:23px;font-weight:400;color:#333;letter-spacing:0.1px;">Label</div><div class="t" style="left:1227.80px;width:1200px;text-align:center;padding-left:0.16px;box-sizing:border-box;top:389.50px;font-size:21.5px;font-weight:400;color:#b3b3b3;letter-spacing:0.16px;">Helvetica-1</div><div class="t" style="left:1629.00px;top:459.26px;font-size:24.5px;font-weight:400;color:#c2c2c2;letter-spacing:0.6px;">Text:</div><div class="t" style="left:1232.00px;width:1200px;text-align:center;padding-left:0.05px;box-sizing:border-box;top:505.15px;font-size:22.5px;font-weight:700;color:#fff;letter-spacing:0.05px;">Joystick Analog1 -</div><div class="t" style="left:1232.00px;width:1200px;text-align:center;padding-left:0.00px;box-sizing:border-box;top:530.15px;font-size:22.5px;font-weight:700;color:#fff;letter-spacing:0px;">angle</div><div class="t" style="left:1629.00px;top:599.68px;font-size:24px;font-weight:400;color:#c2c2c2;letter-spacing:0.55px;">Change Font:</div><div class="t" style="left:1629.00px;top:681.48px;font-size:24px;font-weight:400;color:#c2c2c2;letter-spacing:0.62px;">Change Outline:</div><div class="t" style="left:1629.00px;top:763.68px;font-size:24px;font-weight:400;color:#c2c2c2;letter-spacing:0.6px;">Change Shadow:</div><div class="t" style="left:-524.50px;width:1200px;text-align:center;padding-left:-0.05px;box-sizing:border-box;top:94.53px;font-size:23px;font-weight:400;color:#bdbdbd;letter-spacing:-0.05px;">Back</div><div class="t" style="left:-366.00px;width:1200px;text-align:center;padding-left:0.60px;box-sizing:border-box;top:94.53px;font-size:23px;font-weight:400;color:#8274a7;letter-spacing:0.6px;">Interaction</div><div class="t" style="left:-208.25px;width:1200px;text-align:center;padding-left:0.50px;box-sizing:border-box;top:94.53px;font-size:23px;font-weight:400;color:#fbd5d9;letter-spacing:0.5px;">Object</div><div class="t" style="left:-50.25px;width:1200px;text-align:center;padding-left:0.30px;box-sizing:border-box;top:94.53px;font-size:23px;font-weight:400;color:#f6e8d3;letter-spacing:0.3px;">Screen</div><div class="t" style="left:107.75px;width:1200px;text-align:center;padding-left:0.30px;box-sizing:border-box;top:94.53px;font-size:23px;font-weight:400;color:#cfe4e7;letter-spacing:0.3px;">Transform</div><div class="t" style="left:266.00px;width:1200px;text-align:center;padding-left:0.00px;box-sizing:border-box;top:94.53px;font-size:23px;font-weight:400;color:#d9cfd5;letter-spacing:0.0px;">UI</div><div class="t" style="left:581.75px;width:1200px;text-align:center;padding-left:-0.30px;box-sizing:border-box;top:94.53px;font-size:23px;font-weight:400;color:#f2cdc6;letter-spacing:-0.3px;">FX</div><div class="t" style="left:740.50px;width:1200px;text-align:center;padding-left:-0.20px;box-sizing:border-box;top:94.53px;font-size:23px;font-weight:400;color:#c9e9e6;letter-spacing:-0.2px;">Scene</div><div class="t" style="left:897.75px;width:1200px;text-align:center;padding-left:0.25px;box-sizing:border-box;top:94.53px;font-size:23px;font-weight:400;color:#e8d6ce;letter-spacing:0.25px;">Physics</div><div class="t" style="left:1056.25px;width:1200px;text-align:center;padding-left:0.60px;box-sizing:border-box;top:94.53px;font-size:23px;font-weight:400;color:#d0e2d1;letter-spacing:0.6px;">Logic</div><div class="t" style="left:1214.50px;width:1200px;text-align:center;padding-left:0.40px;box-sizing:border-box;top:94.53px;font-size:23px;font-weight:400;color:#c9d1df;letter-spacing:0.4px;">Custom</div><div class="t" style="left:1372.00px;width:1200px;text-align:center;padding-left:0.90px;box-sizing:border-box;top:94.53px;font-size:23px;font-weight:400;color:#b5b5b5;letter-spacing:0.9px;">Help</div>
</body></html>
